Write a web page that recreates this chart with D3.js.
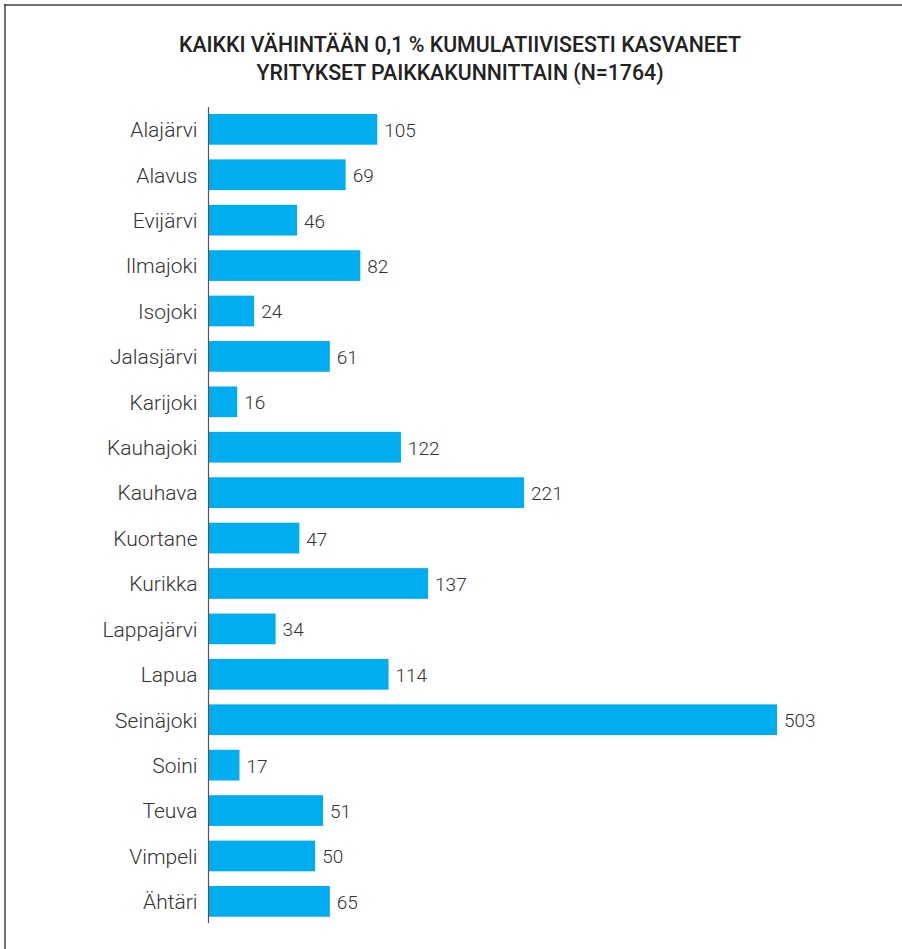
<!DOCTYPE html>
<html>
<head>
<meta charset="utf-8">
<script src="https://cdn.jsdelivr.net/npm/d3@7"></script>
<style>
  html, body { margin: 0; padding: 0; background: #fff; }
  svg { display: block; }
</style>
</head>
<body>
<svg id="chart" width="902" height="949"></svg>
<script>
// ---- data ----
const titleLines = [
  "KAIKKI VÄHINTÄÄN 0,1 % KUMULATIIVISESTI KASVANEET",
  "YRITYKSET PAIKKAKUNNITTAIN (N=1764)"
];
const municipalities = [
  "Alajärvi", "Alavus", "Evijärvi", "Ilmajoki", "Isojoki", "Jalasjärvi",
  "Karijoki", "Kauhajoki", "Kauhava", "Kuortane", "Kurikka", "Lappajärvi",
  "Lapua", "Seinäjoki", "Soini", "Teuva", "Vimpeli", "Ähtäri"
];
// printed counts
const counts = [105, 69, 46, 82, 24, 61, 16, 122, 221, 47, 137, 34, 114, 503, 17, 51, 50, 65];
// bar lengths as drawn in the reference (not proportional to the printed counts),
// read off the picture on the scale of the longest bar (503)
const barValues = [149, 121, 78, 134, 40, 107, 25, 170, 279, 80, 194, 59, 159, 503, 27, 101, 94, 107];

// ---- drawing ----
const svg = d3.select("#chart");
const font = "Roboto, 'DejaVu Sans', sans-serif";

// frame lines (top + left)
svg.append("line").attr("x1", 4).attr("x2", 902).attr("y1", 5).attr("y2", 5)
  .attr("stroke", "#444").attr("stroke-width", 1.5);
svg.append("line").attr("x1", 5).attr("x2", 5).attr("y1", 4).attr("y2", 949)
  .attr("stroke", "#444").attr("stroke-width", 1.5);

// title
svg.append("text")
  .attr("x", 460).attr("y", 52)
  .attr("text-anchor", "middle")
  .style("font-family", font).style("font-weight", 500).style("font-size", "21.3px")
  .attr("fill", "#222")
  .selectAll("tspan").data(titleLines).join("tspan")
  .attr("x", 460).attr("dy", (d, i) => i === 0 ? 0 : 28)
  .text(d => d);

const x0 = 209;
const x = d3.scaleLinear().domain([0, d3.max(barValues)]).range([x0, 777]);
const y = d3.scaleBand().domain(municipalities)
  .range([106.7, 924]).paddingInner(0.324).paddingOuter(0.16);

const rows = municipalities.map((m, i) => ({ name: m, count: counts[i], bar: barValues[i] }));

svg.append("g").selectAll("rect").data(rows).join("rect")
  .attr("x", x(0))
  .attr("y", d => y(d.name))
  .attr("width", d => x(d.bar) - x(0))
  .attr("height", y.bandwidth())
  .attr("fill", "#00aeef");

// value labels
svg.append("g").selectAll("text").data(rows).join("text")
  .attr("x", d => x(d.bar) + 7)
  .attr("y", d => y(d.name) + y.bandwidth() / 2 + 7.5)
  .style("font-family", font).style("font-weight", 300).style("font-size", "19px")
  .attr("fill", "#333")
  .text(d => d.count);

// category axis
const axis = d3.axisLeft(y).tickSize(0).tickPadding(11);
const gAxis = svg.append("g").attr("transform", `translate(${x0 - 0.5},0)`).call(axis);
gAxis.select(".domain").attr("stroke", "#555").attr("stroke-width", 1.2)
  .attr("d", `M0,107V923`);
gAxis.selectAll(".tick text")
  .attr("dy", null)
  .attr("y", 7.8)
  .style("font-family", font).style("font-weight", 300).style("font-size", "21px")
  .attr("fill", "#333");
</script>
</body>
</html>
